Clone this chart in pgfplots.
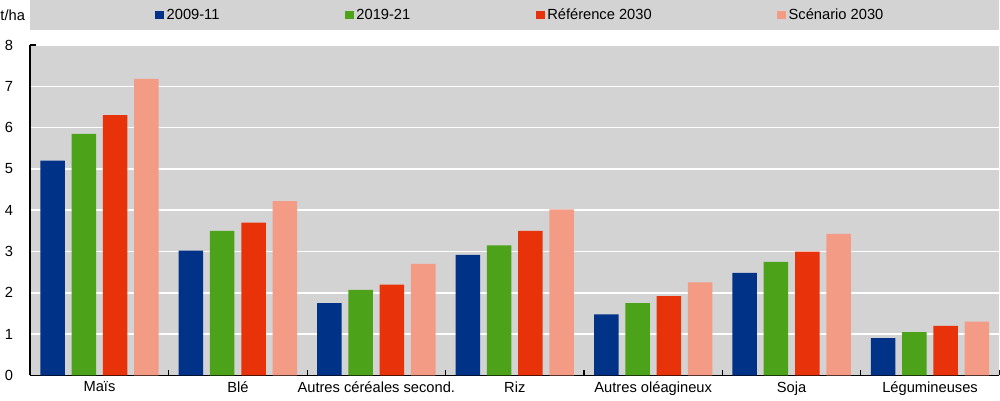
\documentclass[border=0pt]{standalone}
\usepackage{fontspec}
\setmainfont{Liberation Sans}
\usepackage{pgfplots}
\pgfplotsset{compat=1.18}

\definecolor{cblue}{RGB}{0,51,136}
\definecolor{cgreen}{RGB}{76,163,26}
\definecolor{cred}{RGB}{232,51,10}
\definecolor{csalmon}{RGB}{244,155,134}
\definecolor{bggray}{RGB}{211,211,211}

\pgfplotstableread{
x a b c d
0 5.20 5.85 6.30 7.18
1 3.02 3.50 3.70 4.22
2 1.75 2.07 2.20 2.70
3 2.92 3.15 3.50 4.02
4 1.48 1.75 1.92 2.25
5 2.48 2.75 3.00 3.43
6 0.90 1.05 1.20 1.30
}\yields

\begin{document}
\fontsize{11}{13}\selectfont
\begin{tikzpicture}
% legend band
\fill[bggray] (0pt,258.75pt) rectangle (726pt,281.25pt);
\node[anchor=west, inner sep=0pt] at (-22.5pt,270pt) {t/ha};
\begin{axis}[
  scale only axis,
  width=726pt, height=247.5pt,
  xmin=-0.5, xmax=6.5,
  ymin=0, ymax=8,
  ytick={0,1,...,8},
  xtick={0,...,6},
  xticklabels={Maïs, Blé, Autres céréales second., Riz, Autres oléagineux, Soja, Légumineuses},
  minor xtick={0.5,1.5,...,6.5},
  major tick length=0pt,
  minor tick length=4pt,
  tick align=inside,
  tick style={black, line width=0.9pt},
  axis x line*=bottom,
  axis y line*=left,
  axis line style={black, line width=1.1pt, -},
  axis background/.style={fill=bggray},
  ymajorgrids,
  major grid style={white, line width=1.1pt},
  yticklabel style={xshift=-9pt},
  xticklabel style={yshift=-1pt},
  /pgf/number format/assume math mode=true,
  tick label style={font=\fontsize{11}{13}\selectfont},
  extra y ticks={8},
  extra y tick labels={},
  extra y tick style={major tick length=4pt, grid=none},
  bar width=0.177,
  legend columns=4,
  legend style={
    at={(0.5,1)}, anchor=center, yshift=22.5pt, xshift=4.5pt,
    draw=none, fill=none,
    font=\fontsize{11}{13}\selectfont,
    /tikz/every even column/.append style={column sep=92.2pt},
    /tikz/every odd column/.append style={column sep=0pt},
  },
  legend image code/.code={\fill[#1, draw=none] (0pt,-3.2pt) rectangle (6.4pt,3.2pt);},
]
\addplot[ybar, fill=cblue, draw=none, bar shift=-0.339] table[x=x, y=a] {\yields};
\addplot[ybar, fill=cgreen, draw=none, bar shift=-0.113] table[x=x, y=b] {\yields};
\addplot[ybar, fill=cred, draw=none, bar shift=0.113] table[x=x, y=c] {\yields};
\addplot[ybar, fill=csalmon, draw=none, bar shift=0.339] table[x=x, y=d] {\yields};
\legend{2009-11, 2019-21, Référence 2030, Scénario 2030}
\end{axis}
\end{tikzpicture}
\end{document}
